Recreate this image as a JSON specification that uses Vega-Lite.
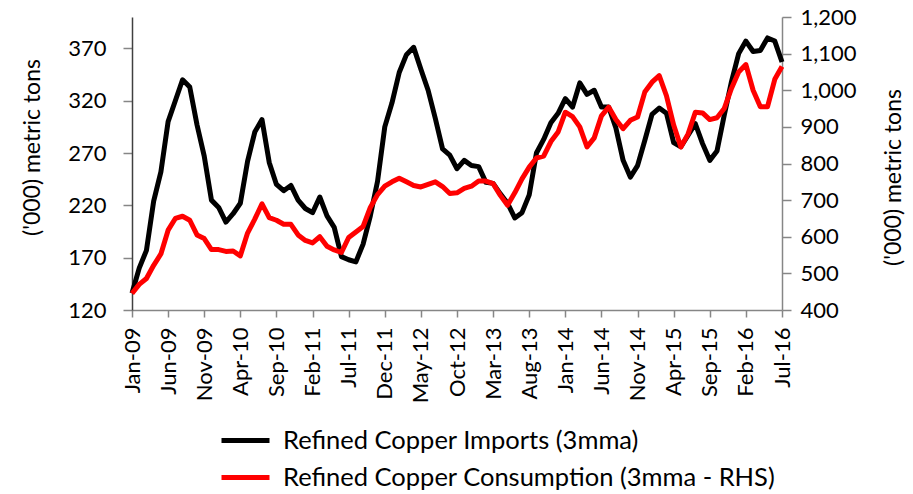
{
  "$schema": "https://vega.github.io/schema/vega-lite/v6.json",
  "autosize": {"type": "none"},
  "padding": {"left": 132, "top": 17, "right": 131, "bottom": 184},
  "width": 650,
  "height": 293,
  "background": "white",
  "config": {
    "view": {"stroke": null},
    "font": "Lato",
    "axis": {"grid": false, "domainColor": "#868686", "tickColor": "#868686", "labelColor": "#000000", "titleColor": "#000000", "labelFont": "Lato", "titleFont": "Lato", "labelFontSize": 22, "titleFontSize": 23, "titleFontWeight": "normal", "domainWidth": 1.5, "tickWidth": 1.5}
  },
  "data": {"values": [
    {"month": "Jan-09", "imports": 136, "consumption": 445},
    {"month": "Feb-09", "imports": 160, "consumption": 470},
    {"month": "Mar-09", "imports": 177, "consumption": 486},
    {"month": "Apr-09", "imports": 224, "consumption": 522},
    {"month": "May-09", "imports": 252, "consumption": 553},
    {"month": "Jun-09", "imports": 300, "consumption": 618},
    {"month": "Jul-09", "imports": 320, "consumption": 650},
    {"month": "Aug-09", "imports": 340, "consumption": 656},
    {"month": "Sep-09", "imports": 333, "consumption": 645},
    {"month": "Oct-09", "imports": 297, "consumption": 605},
    {"month": "Nov-09", "imports": 267, "consumption": 595},
    {"month": "Dec-09", "imports": 225, "consumption": 565},
    {"month": "Jan-10", "imports": 218, "consumption": 565},
    {"month": "Feb-10", "imports": 204, "consumption": 560},
    {"month": "Mar-10", "imports": 212, "consumption": 561},
    {"month": "Apr-10", "imports": 222, "consumption": 548},
    {"month": "May-10", "imports": 262, "consumption": 610},
    {"month": "Jun-10", "imports": 290, "consumption": 648},
    {"month": "Jul-10", "imports": 302, "consumption": 690},
    {"month": "Aug-10", "imports": 261, "consumption": 652},
    {"month": "Sep-10", "imports": 240, "consumption": 645},
    {"month": "Oct-10", "imports": 234, "consumption": 634},
    {"month": "Nov-10", "imports": 239, "consumption": 634},
    {"month": "Dec-10", "imports": 225, "consumption": 605},
    {"month": "Jan-11", "imports": 217, "consumption": 590},
    {"month": "Feb-11", "imports": 213, "consumption": 583},
    {"month": "Mar-11", "imports": 228, "consumption": 600},
    {"month": "Apr-11", "imports": 210, "consumption": 574},
    {"month": "May-11", "imports": 199, "consumption": 564},
    {"month": "Jun-11", "imports": 171, "consumption": 557},
    {"month": "Jul-11", "imports": 168, "consumption": 598},
    {"month": "Aug-11", "imports": 166, "consumption": 613},
    {"month": "Sep-11", "imports": 183, "consumption": 628},
    {"month": "Oct-11", "imports": 210, "consumption": 680},
    {"month": "Nov-11", "imports": 243, "consumption": 715},
    {"month": "Dec-11", "imports": 295, "consumption": 738},
    {"month": "Jan-12", "imports": 318, "consumption": 750},
    {"month": "Feb-12", "imports": 347, "consumption": 760},
    {"month": "Mar-12", "imports": 364, "consumption": 750},
    {"month": "Apr-12", "imports": 371, "consumption": 740},
    {"month": "May-12", "imports": 350, "consumption": 736},
    {"month": "Jun-12", "imports": 330, "consumption": 743},
    {"month": "Jul-12", "imports": 303, "consumption": 750},
    {"month": "Aug-12", "imports": 274, "consumption": 737},
    {"month": "Sep-12", "imports": 268, "consumption": 718},
    {"month": "Oct-12", "imports": 255, "consumption": 720},
    {"month": "Nov-12", "imports": 263, "consumption": 732},
    {"month": "Dec-12", "imports": 258, "consumption": 738},
    {"month": "Jan-13", "imports": 257, "consumption": 752},
    {"month": "Feb-13", "imports": 242, "consumption": 752},
    {"month": "Mar-13", "imports": 241, "consumption": 745},
    {"month": "Apr-13", "imports": 231, "consumption": 713},
    {"month": "May-13", "imports": 222, "consumption": 686},
    {"month": "Jun-13", "imports": 208, "consumption": 720},
    {"month": "Jul-13", "imports": 213, "consumption": 758},
    {"month": "Aug-13", "imports": 230, "consumption": 790},
    {"month": "Sep-13", "imports": 270, "consumption": 815},
    {"month": "Oct-13", "imports": 283, "consumption": 820},
    {"month": "Nov-13", "imports": 299, "consumption": 860},
    {"month": "Dec-13", "imports": 308, "consumption": 886},
    {"month": "Jan-14", "imports": 322, "consumption": 940},
    {"month": "Feb-14", "imports": 314, "consumption": 928},
    {"month": "Mar-14", "imports": 337, "consumption": 900},
    {"month": "Apr-14", "imports": 326, "consumption": 845},
    {"month": "May-14", "imports": 330, "consumption": 870},
    {"month": "Jun-14", "imports": 314, "consumption": 930},
    {"month": "Jul-14", "imports": 314, "consumption": 954},
    {"month": "Aug-14", "imports": 294, "consumption": 920},
    {"month": "Sep-14", "imports": 263, "consumption": 895},
    {"month": "Oct-14", "imports": 247, "consumption": 918},
    {"month": "Nov-14", "imports": 258, "consumption": 927},
    {"month": "Dec-14", "imports": 282, "consumption": 995},
    {"month": "Jan-15", "imports": 307, "consumption": 1022},
    {"month": "Feb-15", "imports": 313, "consumption": 1040},
    {"month": "Mar-15", "imports": 308, "consumption": 985},
    {"month": "Apr-15", "imports": 280, "consumption": 905},
    {"month": "May-15", "imports": 276, "consumption": 845},
    {"month": "Jun-15", "imports": 287, "consumption": 881},
    {"month": "Jul-15", "imports": 298, "consumption": 940},
    {"month": "Aug-15", "imports": 279, "consumption": 938},
    {"month": "Sep-15", "imports": 263, "consumption": 920},
    {"month": "Oct-15", "imports": 272, "consumption": 925},
    {"month": "Nov-15", "imports": 306, "consumption": 950},
    {"month": "Dec-15", "imports": 338, "consumption": 1005},
    {"month": "Jan-16", "imports": 365, "consumption": 1050},
    {"month": "Feb-16", "imports": 377, "consumption": 1070},
    {"month": "Mar-16", "imports": 367, "consumption": 1000},
    {"month": "Apr-16", "imports": 368, "consumption": 955},
    {"month": "May-16", "imports": 380, "consumption": 955},
    {"month": "Jun-16", "imports": 377, "consumption": 1030},
    {"month": "Jul-16", "imports": 357, "consumption": 1065}
  ]},
  "encoding": {
    "x": {
      "field": "month", "type": "ordinal", "sort": null,
      "scale": {"type": "point", "padding": 0},
      "axis": {
        "title": null, "labelAngle": -90, "tickSize": 7, "labelPadding": 10,
        "values": ["Jan-09", "Jun-09", "Nov-09", "Apr-10", "Sep-10", "Feb-11", "Jul-11", "Dec-11", "May-12", "Oct-12", "Mar-13", "Aug-13", "Jan-14", "Jun-14", "Nov-14", "Apr-15", "Sep-15", "Feb-16", "Jul-16"]
      }
    }
  },
  "layer": [
    {
      "mark": {"type": "line", "strokeWidth": 5, "strokeJoin": "round", "strokeCap": "butt"},
      "encoding": {
        "y": {
          "field": "imports", "type": "quantitative",
          "scale": {"domain": [120, 400], "nice": false, "zero": false},
          "axis": {"orient": "left", "title": "('000) metric tons", "values": [120, 170, 220, 270, 320, 370], "tickSize": 9, "labelPadding": 17, "domainColor": "#404040", "titleX": -100, "titleY": 130, "titleAlign": "center", "titleBaseline": "middle", "titleAngle": -90}
        },
        "color": {
          "datum": "Refined Copper Imports (3mma)", "type": "nominal",
          "scale": {"domain": ["Refined Copper Imports (3mma)", "Refined Copper Consumption (3mma - RHS)"], "range": ["#000000", "#ff0000"]},
          "legend": {
            "title": null, "orient": "none", "legendX": 99, "legendY": 409, "direction": "vertical",
            "symbolType": "M-2,0H2", "symbolSize": 576, "symbolStrokeWidth": 5,
            "labelFont": "Lato", "labelFontSize": 25.5, "labelColor": "#000000", "labelOffset": 23, "rowPadding": 9, "labelLimit": 0
          }
        }
      }
    },
    {
      "mark": {"type": "line", "strokeWidth": 5, "strokeJoin": "round", "strokeCap": "butt"},
      "encoding": {
        "y": {
          "field": "consumption", "type": "quantitative",
          "scale": {"domain": [400, 1200], "nice": false, "zero": false},
          "axis": {"orient": "right", "title": "('000) metric tons", "values": [400, 500, 600, 700, 800, 900, 1000, 1100, 1200], "format": ",d", "tickSize": 9, "labelPadding": 9, "titleX": 111, "titleY": 160, "titleAlign": "center", "titleBaseline": "middle", "titleAngle": -90}
        },
        "color": {"datum": "Refined Copper Consumption (3mma - RHS)", "type": "nominal"}
      }
    }
  ],
  "resolve": {"scale": {"y": "independent"}}
}
